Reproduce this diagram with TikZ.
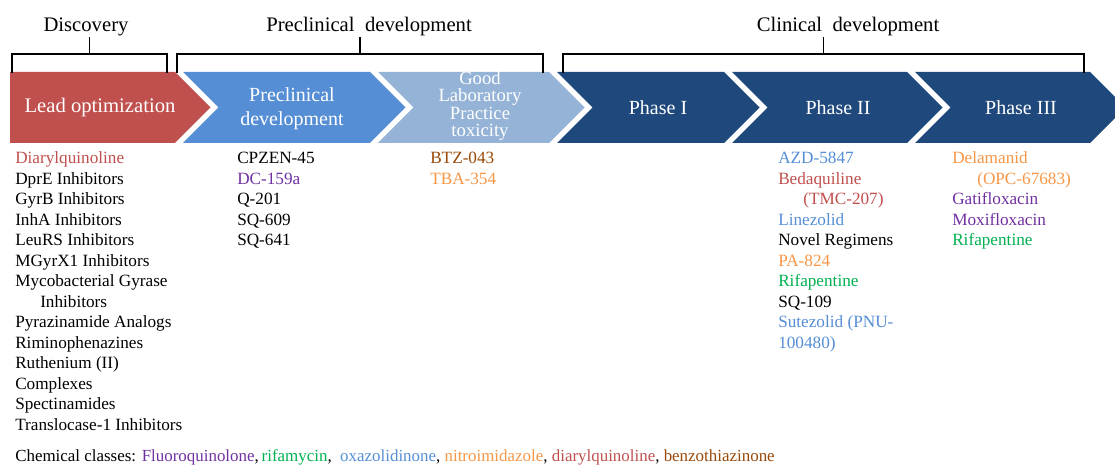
\documentclass[tikz,border=0pt]{standalone}
\usepackage{fontspec}
\setmainfont{Liberation Serif}
\definecolor{stRed}{HTML}{C0504D}
\definecolor{stBlue}{HTML}{558ED5}
\definecolor{stLight}{HTML}{95B3D7}
\definecolor{stDark}{HTML}{1F497D}
\definecolor{tRed}{HTML}{C0504D}
\definecolor{tBlue}{HTML}{558ED5}
\definecolor{tPurple}{HTML}{7030A0}
\definecolor{tGreen}{HTML}{00B050}
\definecolor{tOrange}{HTML}{F79646}
\definecolor{tBrown}{HTML}{984807}
\begin{document}
\begin{tikzpicture}[x=0.75pt,y=-0.75pt,
  stagefill/.style={fill=#1,draw=none},
  stagelabel/.style={text=white,inner sep=0pt,align=center,font=\fontsize{15}{18}\selectfont},
  head/.style={anchor=base,inner sep=0pt,font=\fontsize{15.5}{18}\selectfont},
  bracket/.style={line width=1pt},
  listcol/.style={anchor=base west,inner sep=0pt,font=\fontsize{12.9}{15.35}\selectfont},
  legend/.style={anchor=base west,inner sep=0pt,font=\fontsize{12.7}{14}\selectfont}]
\useasboundingbox (0,0) rectangle (1115,466);

% stage arrows: top 72, bottom 143, point depth 35.5
\fill[stagefill=stRed]   (10,72) -- (175,72) -- (210.5,107.5) -- (175,143) -- (10,143) -- cycle;
\fill[stagefill=stBlue]  (183,72) -- (370,72) -- (405.5,107.5) -- (370,143) -- (183,143) -- (218.5,107.5) -- cycle;
\fill[stagefill=stLight] (378,72) -- (549,72) -- (584.5,107.5) -- (549,143) -- (378,143) -- (413.5,107.5) -- cycle;
\fill[stagefill=stDark]  (557,72) -- (724,72) -- (759.5,107.5) -- (724,143) -- (557,143) -- (592.5,107.5) -- cycle;
\fill[stagefill=stDark]  (732,72) -- (907,72) -- (942.5,107.5) -- (907,143) -- (732,143) -- (767.5,107.5) -- cycle;
\fill[stagefill=stDark]  (915,72) -- (1090,72) -- (1125.5,107.5) -- (1090,143) -- (915,143) -- (950.5,107.5) -- cycle;

\node[stagelabel,font=\fontsize{15.5}{18}\selectfont] (sLead) at (100,108) {Lead optimization};
\node[stagelabel,font=\fontsize{15}{18}\selectfont] (sPre) at (292,109) {Preclinical\\development};
\node[stagelabel,font=\fontsize{14}{12.9}\selectfont] (sGlp) at (480,106) {Good\\Laboratory\\Practice\\toxicity};
\node[stagelabel] (sP1) at (658,108) {Phase I};
\node[stagelabel] (sP2) at (838,108) {Phase II};
\node[stagelabel] (sP3) at (1021,108) {Phase III};

% phase headers and brackets
\node[head] (hDisc) at (86,32) {Discovery};
\node[head] (hPre) at (369,32) {Preclinical\hspace{0.5em}development};
\node[head] (hClin) at (848,32) {Clinical\hspace{0.5em}development};

\draw[bracket] (12,73) -- (12,54) -- (167,54) -- (167,73);
\draw[bracket] (177,73) -- (177,54) -- (543,54) -- (543,73);
\draw[bracket] (563,73) -- (563,54) -- (1084,54) -- (1084,73);
\coordinate (bDisc) at (89.5,54);
\coordinate (bPre) at (360,54);
\coordinate (bClin) at (823.5,54);
\draw[bracket] (bDisc) -- (bDisc |- hDisc.south);
\draw[bracket] (bPre) -- (bPre |- hPre.south);
\draw[bracket] (bClin) -- (bClin |- hClin.south);

% compound lists
\node[listcol] (cLead) at (15,164) {\begin{tabular}[t]{@{}l@{}}
\textcolor{tRed}{Diarylquinoline}\\
DprE Inhibitors\\
GyrB Inhibitors\\
InhA Inhibitors\\
LeuRS Inhibitors\\
MGyrX1 Inhibitors\\
Mycobacterial Gyrase\\
\hspace*{18.75pt}Inhibitors\\
Pyrazinamide Analogs\\
Riminophenazines\\
Ruthenium (II)\\
Complexes\\
Spectinamides\\
Translocase-1 Inhibitors
\end{tabular}};

\node[listcol] (cPre) at (237,164) {\begin{tabular}[t]{@{}l@{}}
CPZEN-45\\
\textcolor{tPurple}{DC-159a}\\
Q-201\\
SQ-609\\
SQ-641
\end{tabular}};

\node[listcol] (cGlp) at (430,164) {\begin{tabular}[t]{@{}l@{}}
\textcolor{tBrown}{BTZ-043}\\
\textcolor{tOrange}{TBA-354}
\end{tabular}};

\node[listcol] (cP2) at (778,164) {\begin{tabular}[t]{@{}l@{}}
\textcolor{tBlue}{AZD-5847}\\
\textcolor{tRed}{Bedaquiline}\\
\hspace*{18.75pt}\textcolor{tRed}{(TMC-207)}\\
\textcolor{tBlue}{Linezolid}\\
Novel Regimens\\
\textcolor{tOrange}{PA-824}\\
\textcolor{tGreen}{Rifapentine}\\
SQ-109\\
\textcolor{tBlue}{Sutezolid (PNU-}\\
\textcolor{tBlue}{100480)}
\end{tabular}};

\node[listcol] (cP3) at (952,164) {\begin{tabular}[t]{@{}l@{}}
\textcolor{tOrange}{Delamanid}\\
\hspace*{18.75pt}\textcolor{tOrange}{(OPC-67683)}\\
\textcolor{tPurple}{Gatifloxacin}\\
\textcolor{tPurple}{Moxifloxacin}\\
\textcolor{tGreen}{Rifapentine}
\end{tabular}};

% class colour key
\node[legend] (key) at (15,462) {Chemical classes: \textcolor{tPurple}{Fluoroquinolone},\,\textcolor{tGreen}{rifamycin}, \ \textcolor{tBlue}{oxazolidinone}, \textcolor{tOrange}{nitroimidazole}, \textcolor{tRed}{diarylquinoline}, \textcolor{tBrown}{benzothiazinone}};
\end{tikzpicture}
\end{document}
